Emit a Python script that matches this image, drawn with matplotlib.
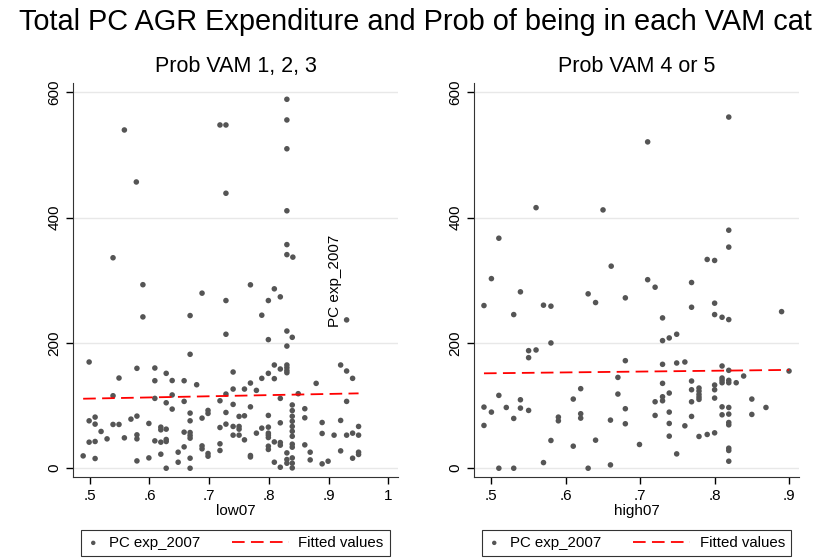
import numpy as np
import matplotlib.pyplot as plt
from matplotlib.lines import Line2D
from matplotlib.legend_handler import HandlerLine2D

plt.rcParams['font.family'] = ['Liberation Sans', 'DejaVu Sans']

# Prob VAM 1, 2, 3 (low07) vs PC exp_2007
low07 = [.499, .489, .499, .499, .509, .509, .509, .509, .519, .529, .539, .539, .549, .549, .558,
         .569, .579, .579, .579, .579, .579, .589, .589, .599, .599, .609, .609, .609, .609, .619,
         .619, .619, .619, .628, .628, .628, .628, .628, .628, .638, .638, .638, .648, .648, .658,
         .658, .658, .658, .668, .668, .668, .668, .668, .668, .668, .668, .668, .679, .688, .688,
         .688, .688, .698, .698, .698, .698, .718, .718, .718, .718, .728, .728, .728, .728, .728,
         .558, .578, .539, .718, .728, .728,
         .83, .83, .83, .83, .83, .83, .84,
         .769, .809, .819, .799, .788, .799, .830, .839, .830, .930, .809, .830, .83, .83, .83,
         .819, .799, .788, .809, .740, .769, .740, .759, .779, .819, .849, .879, .920, .930, .940,
         .930, .740, .769, .75, .759, .799, .839, .839, .839, .839, .839, .839, .839, .839, .839,
         .839, .839, .839, .86, .86, .819, .74, .75, .75, .788, .799, .799, .799, .799, .799,
         .799, .779, .74, .75, .759, .809, .819, .819, .83, .83, .83, .809, .819, .769, .769,
         .86, .869, .869, .889, .889, .889, .899, .909, .92, .92, .93, .94, .94, .95, .95,
         .95, .95]
exp_low = [169.6, 19.7, 41.6, 75.7, 81.6, 70.4, 42.7, 15.5, 58.7, 46.9, 115.7, 69.9, 144, 69.9, 48.5,
           78.4, 83.2, 159.5, 53.3, 46.9, 11.7, 293, 241.6, 71.5, 16.5, 160, 139.7, 111.5, 43.7, 65.6,
           61.3, 41.6, 22.4, 151.5, 104.5, 62.4, 45.9, 42.7, 0, 140, 117, 94.4, 25.6, 9.6, 139.7,
           106.7, 57.6, 34.1, 243.7, 181.9, 88, 75.7, 57, 52.3, 48, 16, 0, 133.3, 279.5, 80,
           35.7, 31, 92.3, 87.5, 23.5, 19.2, 107.7, 65, 39, 28.3, 267.7, 213.9, 118.4, 89, 70.4,
           540, 457, 336, 548, 548, 439,
           589, 556, 510, 411, 357, 341, 337,
           292.8, 286.4, 273.6, 267.7, 244.3, 205.3, 219, 209, 195, 236.8, 164.8, 164.8, 160.5, 156, 152.5,
           158.4, 151.5, 143.5, 143, 153.6, 136, 126.4, 126.4, 124.3, 111.5, 119, 135.5, 164.8, 155.2, 143.5,
           106.7, 101.9, 98, 82.7, 83.7, 84.3, 101, 92, 83, 75, 66.7, 59, 51, 38.4, 33.6,
           16.5, 8, 0.5, 95, 80.5, 72.5, 66.7, 66.7, 62.4, 64, 65.6, 56, 52.8, 49, 35.2,
           30, 56, 52.8, 52.8, 45.3, 42, 41, 36.8, 24.5, 13.9, 8, 9.6, 1.6, 20.3, 18,
           37.3, 25.6, 13.3, 73, 55.5, 7, 11.2, 52.8, 76.3, 27.7, 52.8, 56, 16, 66.7, 52.8,
           25.6, 22]

# Prob VAM 4 or 5 (high07) vs PC exp_2007
high07 = [.560, .650, .510, .661, .5, .819, .710, .819, .819, .790, .80, .710,
          .49, .539, .53, .57, .58, .58, .55, .56, .55, .63, .64, .68, .68, .67, .51, .49, .5, .52,
          .539, .539, .55, .53, .49, .51, .53, .57, .58, .59, .59, .61, .61, .62, .62, .62, .63,
          .64, .66, .66, .67, .68, .68, .699,
          .72, .769, .73, .769, .80, .80, .81, .819, .89, .73, .739, .749, .73, .749, .76, .81,
          .819, .9, .839, .81, .81, .81, .819, .819, .829, .73, .769, .769, .769, .769, .779, .779,
          .779, .779, .779, .80, .80, .80, .739, .73, .73, .72, .72, .85, .85, .869, .81, .81,
          .819, .819, .819, .819, .739, .739, .739, .76, .779, .79, .80, .749, .819, .819, .819]
exp_high = [416, 412.4, 367.2, 322.6, 302.7, 560.6, 521, 380, 353, 333.3, 331.7, 301,
            259.7, 281.6, 245.3, 260.3, 258.7, 200, 187.7, 188.8, 176.5, 278.4, 264.5, 272, 171.7, 145,
            116.3, 97.6, 89.6, 97, 109.3, 96, 92.3, 79.5, 68.3, 0, 0, 9, 44.3, 81.6, 75.7, 110.4,
            35.2, 127, 87, 80, 0, 44.8, 76.8, 5.3, 118.4, 95, 71, 37.9,
            289, 296.5, 240, 257, 263.5, 245.3, 241, 237.3, 250, 203.7, 208, 213.9, 165.9, 168, 169.6,
            163.2, 156.3, 155.2, 147.2, 144, 140.3, 136.5, 140.3, 136.5, 136.5, 135.5, 139.2, 125.3,
            106.1, 82.7, 128, 123.2, 117.9, 113.6, 109.9, 132.8, 125.3, 112, 120, 114.1, 107.7, 106.1,
            84.3, 110.4, 85.9, 97, 98, 85.3, 97, 86.4, 73, 69.3, 89.6, 71.5, 51.2, 67.7, 50.7,
            53.9, 56.5, 22.9, 32, 28.3, 11.2]

panels = [
    (low07, exp_low, 'Prob VAM 1, 2, 3', 'low07', [.5, .6, .7, .8, .9, 1], ['.5', '.6', '.7', '.8', '.9', '1'], (0.472, 1.016)),
    (high07, exp_high, 'Prob VAM 4 or 5', 'high07', [.5, .6, .7, .8, .9], ['.5', '.6', '.7', '.8', '.9'], (0.4766, 0.9134)),
]
axes_left = [73 / 823, 474 / 823]


# Stata draws the legend line key much longer than the marker key
class LongLine(HandlerLine2D):
    def __init__(self, extra, **kw):
        super().__init__(**kw)
        self.extra = extra

    def create_artists(self, legend, orig_handle, xdescent, ydescent, width, height, fontsize, trans):
        y = height / 2 - ydescent
        line = Line2D([-xdescent - self.extra, width - xdescent], [y, y])
        self.update_prop(line, orig_handle, legend)
        line.set_transform(trans)
        return [line]


fig = plt.figure(figsize=(8.23, 5.59), dpi=100)
fig.text(19 / 823, 1 - 22 / 559, 'Total PC AGR Expenditure and Prob of being in each VAM cat',
         fontsize=20.8, ha='left', va='center')

for i, (xv, yv, title, xlab, ticks, ticklabels, xlim) in enumerate(panels):
    ax = fig.add_axes([axes_left[i], 1 - 477 / 559, 325 / 823, 394 / 559])
    xv = np.array(xv)
    yv = np.array(yv)
    ax.scatter(xv, yv, s=16, color='#555555', edgecolors='none', zorder=3, label='PC exp_2007')
    b, a = np.polyfit(xv, yv, 1)
    xs = np.array([xv.min(), xv.max()])
    fit_line, = ax.plot(xs, a + b * xs, color='red', lw=1.3, dashes=(7, 3.5), zorder=4, label='Fitted values')

    ax.set_xlim(*xlim)
    ax.set_ylim(-14, 615)
    ax.set_xticks(ticks)
    ax.set_xticklabels(ticklabels)
    ax.set_yticks([0, 200, 400, 600])
    ax.set_yticklabels(['0', '200', '400', '600'], rotation=90, va='center')
    ax.tick_params(labelsize=11, direction='out', length=5, width=1, color='black')
    ax.grid(axis='y', color='#e8e8e8', lw=1, zorder=0)
    ax.set_axisbelow(True)
    for s in ['top', 'right']:
        ax.spines[s].set_visible(False)
    ax.spines['left'].set_color('#333333')
    ax.spines['bottom'].set_color('#333333')
    ax.set_title(title, fontsize=15.5, pad=8)
    ax.set_xlabel(xlab, fontsize=11, labelpad=1)

    leg = ax.legend(loc='upper center', bbox_to_anchor=(0.5, -0.115), ncol=2, frameon=True,
                    fancybox=False, edgecolor='black', fontsize=10.8, handlelength=0.8,
                    handletextpad=0.65, columnspacing=5.1, borderpad=0.4, markerscale=0.8,
                    handler_map={fit_line: LongLine(extra=32)})
    leg.get_frame().set_linewidth(0.8)

    if i == 0:
        ax.text(0.911, 226, 'PC exp_2007', rotation=90, ha='center', va='bottom', fontsize=11)

plt.savefig('out.png', dpi=100)
